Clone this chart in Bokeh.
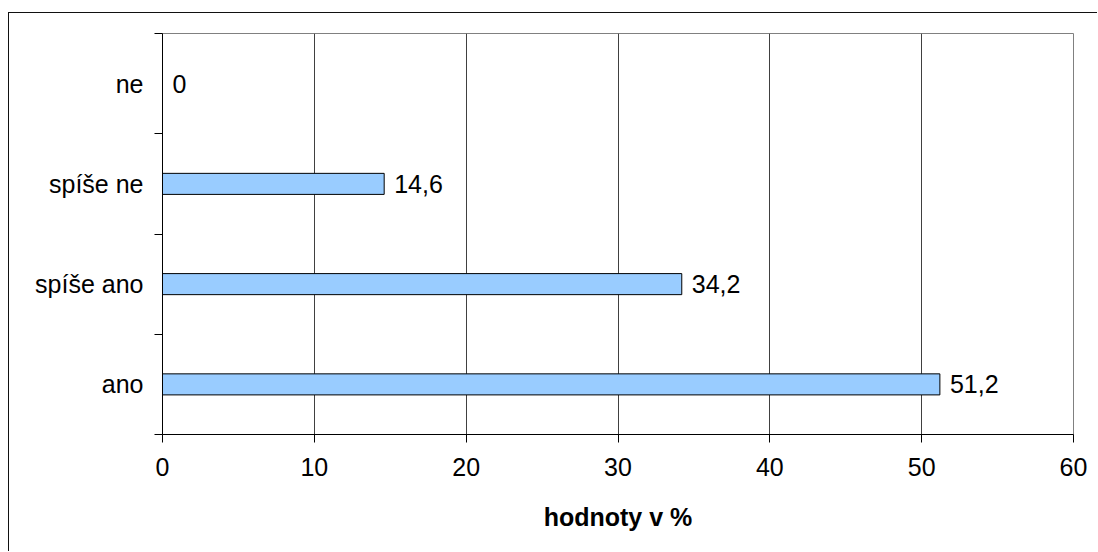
from bokeh.plotting import figure
from bokeh.models import Range1d, FixedTicker, ColumnDataSource
from bokeh.core.properties import value
from bokeh.embed import file_html
from bokeh.resources import INLINE

categories = ["ano", "spíše ano", "spíše ne", "ne"]
values = [51.2, 34.2, 14.6, 0]
x_ticks = [0, 10, 20, 30, 40, 50, 60]
x_label = "hodnoty v %"

FONT = "Liberation Sans"
FS = "25px"

pos = [i + 0.5 for i in range(len(categories))]
labels = [("%g" % v).replace(".", ",") for v in values]
src = ColumnDataSource(dict(y=pos, right=values, label=labels))

p = figure(width=1089, height=539, output_backend="svg", toolbar_location=None,
           x_range=Range1d(0, 60), y_range=Range1d(0, len(categories)),
           min_border_left=153, min_border_right=25, min_border_top=20, min_border_bottom=118,
           margin=(12, 0, 0, 8),
           styles={"border-top": "1px solid #111", "border-left": "1px solid #111"})
p.background_fill_color = "white"
p.border_fill_color = "white"
p.outline_line_color = "#808080"
p.outline_line_width = 1

p.hbar(y="y", left=0, right="right", height=0.21, source=src,
       fill_color="#99CCFF", line_color="black", line_width=1)
p.text(x="right", y="y", text="label", source=src, x_offset=10,
       text_baseline="middle", text_align="left",
       text_font=value(FONT), text_font_size=FS, text_color="black")

# x axis
xa = p.xaxis[0]
xa.ticker = FixedTicker(ticks=x_ticks)
xa.major_tick_out = 8
xa.major_tick_in = 0
xa.minor_tick_out = 0
xa.minor_tick_in = 0
xa.axis_line_color = "black"
xa.major_tick_line_color = "black"
xa.major_label_text_font = FONT
xa.major_label_text_font_size = FS
xa.major_label_text_color = "black"
xa.major_label_standoff = 15
xa.axis_label = x_label
xa.axis_label_text_font = FONT
xa.axis_label_text_font_size = FS
xa.axis_label_text_font_style = "bold"
xa.axis_label_text_color = "black"
xa.axis_label_standoff = 24

# y axis
ya = p.yaxis[0]
ya.ticker = FixedTicker(ticks=pos, minor_ticks=list(range(len(categories) + 1)))
ya.major_label_overrides = {pv: c for pv, c in zip(pos, categories)}
ya.major_tick_out = 0
ya.major_tick_in = 0
ya.minor_tick_out = 8
ya.minor_tick_in = 0
ya.minor_tick_line_color = "black"
ya.axis_line_color = "black"
ya.major_label_text_font = FONT
ya.major_label_text_font_size = FS
ya.major_label_text_color = "black"
ya.major_label_standoff = 11

p.xgrid.ticker = FixedTicker(ticks=x_ticks)
p.xgrid.grid_line_color = "#404040"
p.xgrid.grid_line_width = 1
p.ygrid.grid_line_color = None

open("out.html", "w").write(file_html(p, INLINE))
